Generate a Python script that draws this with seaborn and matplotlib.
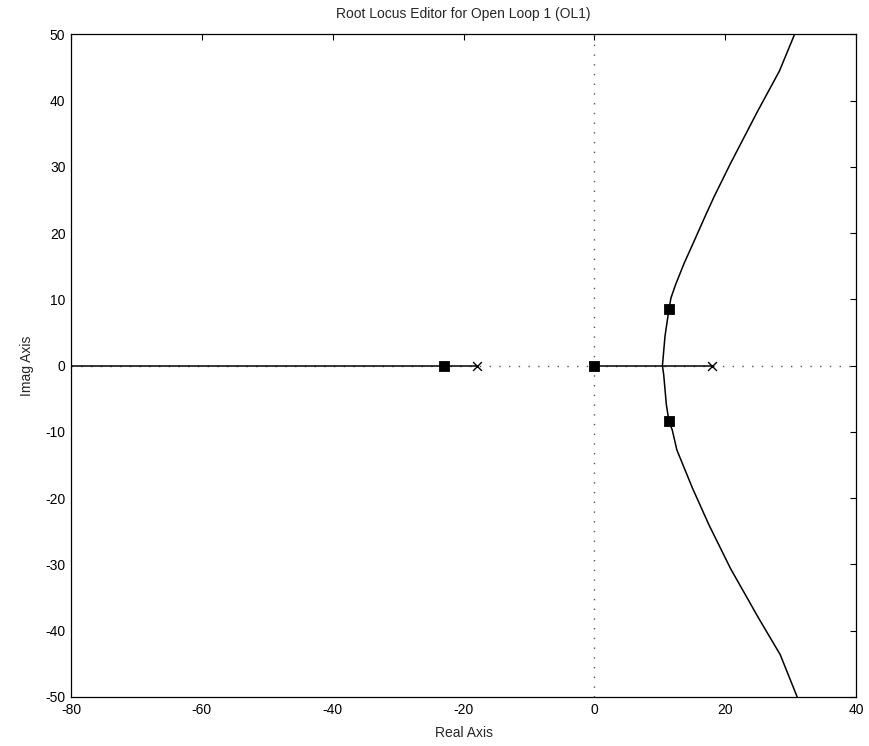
import matplotlib
matplotlib.use("Agg")
import matplotlib.pyplot as plt
import seaborn as sns
import pandas as pd

# Open-loop poles (x markers) and closed-loop poles (squares)
ol_poles_re = [-18.0, 0.0, 18.0]
ol_poles_im = [0.0, 0.0, 0.0]
cl_poles_re = [-23.0, 0.0, 11.4, 11.4]
cl_poles_im = [0.0, 0.0, 8.5, -8.4]

# Locus branches
left_re = [-80.0, -18.0]
left_im = [0.0, 0.0]
mid_re = [0.0, 18.0]
mid_im = [0.0, 0.0]
upper_re = [10.4, 10.8, 11.4, 11.7, 12.4, 13.7, 15.2, 17.0, 18.3, 20.8, 24.9, 28.3, 30.6]
upper_im = [0.0, 4.5, 8.5, 10.2, 12.2, 15.4, 18.7, 22.7, 25.5, 30.5, 38.3, 44.5, 50.0]
lower_re = [10.4, 10.6, 11.0, 11.4, 11.9, 12.6, 15.0, 17.5, 20.8, 25.1, 28.4, 31.0]
lower_im = [0.0, -1.4, -5.9, -8.4, -9.7, -12.7, -18.5, -24.0, -30.6, -38.1, -43.6, -50.0]

x_ticks = [-80, -60, -40, -20, 0, 20, 40]
y_ticks = [-50, -40, -30, -20, -10, 0, 10, 20, 30, 40, 50]

sns.set_style("white")
plt.rcParams['font.family'] = ['Liberation Sans', 'DejaVu Sans']
plt.rcParams['axes.unicode_minus'] = False

fig = plt.figure(figsize=(8.7, 7.46), dpi=100)
ax = fig.add_axes([0.0816, 0.0657, 0.9024, 0.8883])

# dotted axis lines through origin
ax.axhline(0, color="#555555", lw=1.0, ls=(0, (1, 6)), zorder=1)
ax.axvline(0, color="#555555", lw=1.0, ls=(0, (1, 6)), zorder=1)

branches = [(left_re, left_im), (mid_re, mid_im),
            (upper_re, upper_im), (lower_re, lower_im)]
for re, im in branches:
    df = pd.DataFrame({"re": re, "im": im})
    sns.lineplot(data=df, x="re", y="im", sort=False, estimator=None,
                 color="black", lw=1.1, ax=ax, zorder=2)

df_ol = pd.DataFrame({"re": ol_poles_re, "im": ol_poles_im})
sns.scatterplot(data=df_ol, x="re", y="im", marker="x", s=40, color="black",
                linewidth=1.0, ax=ax, zorder=3)
df_cl = pd.DataFrame({"re": cl_poles_re, "im": cl_poles_im})
sns.scatterplot(data=df_cl, x="re", y="im", marker="s", s=55, color="black",
                edgecolor="black", ax=ax, zorder=4)

ax.set_xlim(-80, 40)
ax.set_ylim(-50, 50)
ax.set_xticks(x_ticks)
ax.set_yticks(y_ticks)
ax.tick_params(direction="in", top=True, right=True, length=4, width=0.8,
               labelsize=10, colors="black", pad=4)
for s in ax.spines.values():
    s.set_color("black")
    s.set_linewidth(0.9)
    s.set_visible(True)

ax.set_xlabel("Real Axis", fontsize=10, labelpad=7)
ax.set_ylabel("Imag Axis", fontsize=10, labelpad=8)
ax.set_title("Root Locus Editor for Open Loop 1 (OL1)", fontsize=10, pad=12)

fig.savefig("out.png", dpi=100, facecolor="white")
